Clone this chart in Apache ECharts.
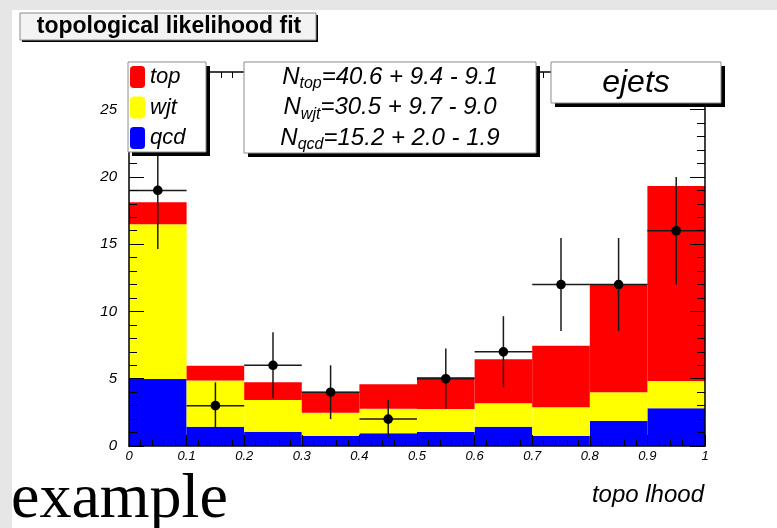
<!DOCTYPE html>
<html><head><meta charset="utf-8">
<script src="https://cdn.jsdelivr.net/npm/echarts@6/dist/echarts.min.js"></script>
<style>html,body{margin:0;padding:0;background:#fff}#c{width:777px;height:528px}</style>
</head><body><div id="c"></div>
<script>
// ---- data ----
const binLow  = [0.0,0.1,0.2,0.3,0.4,0.5,0.6,0.7,0.8,0.9];
const binHigh = [0.1,0.2,0.3,0.4,0.5,0.6,0.7,0.8,0.9,1.0];
const qcdVals = [4.98,1.43,1.06,0.74,0.94,1.04,1.43,0.74,1.86,2.80];
const wjtVals = [11.50,3.43,2.36,1.74,1.83,1.71,1.74,2.14,2.13,2.03];
const topVals = [1.64,1.11,1.32,1.56,1.82,2.38,3.28,4.58,8.05,14.50];
const dataVals = [19,3,6,4,2,5,7,12,12,16];
const dataErrs = [4.36,1.73,2.45,2.00,1.41,2.24,2.65,3.46,3.46,4.00];
const seriesNames = ['top','wjt','qcd'];
const fitNames = ['top','wjt','qcd'];
const fitVals  = ['40.6','30.5','15.2'];
const fitUp    = ['9.4','9.7','2.0'];
const fitDown  = ['9.1','9.0','1.9'];
const yTicks = [0,5,10,15,20,25];
const titleText = 'topological likelihood fit';
const xTitle = 'topo lhood';
const boxLabel = 'ejets';

const FONT = 'Liberation Sans, Arial, Helvetica, sans-serif';
const chart = echarts.init(document.getElementById('c'), null, {renderer:'canvas'});

function stackData(vals, bases){
  return vals.map((v,i)=>[binLow[i], binHigh[i], bases[i], bases[i]+v]);
}
const base0 = qcdVals.map(()=>0);
const base1 = qcdVals.slice();
const base2 = qcdVals.map((v,i)=>v+wjtVals[i]);

function histItem(params, api){
  const p0 = api.coord([api.value(0), api.value(2)]);
  const p1 = api.coord([api.value(1), api.value(3)]);
  return {type:'rect', shape:{x:p0[0], y:p1[1], width:p1[0]-p0[0], height:p0[1]-p1[1]},
          style:{fill: api.visual('color')}};
}
function dataItem(params, api){
  const x0=api.value(0), x1=api.value(1), y=api.value(2), e=api.value(3);
  const xc=(x0+x1)/2;
  const pl=api.coord([x0,y]), pr=api.coord([x1,y]), pc=api.coord([xc,y]);
  const pt=api.coord([xc,y+e]), pb=api.coord([xc,y-e]);
  const st={stroke:'#1a1a1a', lineWidth:1.5};
  return {type:'group', children:[
    {type:'line', shape:{x1:pl[0],y1:pl[1],x2:pr[0],y2:pr[1]}, style:st},
    {type:'line', shape:{x1:pt[0],y1:pt[1],x2:pb[0],y2:pb[1]}, style:st},
    {type:'circle', shape:{cx:pc[0],cy:pc[1],r:4.8}, style:{fill:'#000'}}
  ]};
}

const tickCommon = {inside:true, lineStyle:{color:'#000', width:1}};
function xAx(pos, showLabel){
  return {type:'value', min:0, max:1, interval:0.1, position:pos, z:10,
    axisLine:{onZero:false, lineStyle:{color:'#000', width:1.5}},
    axisTick:Object.assign({length:11}, tickCommon),
    minorTick:{show:true, splitNumber:5, length:6, lineStyle:{color:'#000', width:1}},
    splitLine:{show:false},
    axisLabel:{show:showLabel, fontStyle:'italic', fontSize:13, color:'#000', fontFamily:FONT, margin:4}
  };
}
function yAx(pos, showLabel){
  return {type:'value', min:0, max:27.8, interval:5, position:pos, z:10,
    axisLine:{onZero:false, lineStyle:{color:'#000', width:1.5}},
    axisTick:Object.assign({length:15}, tickCommon),
    minorTick:{show:true, splitNumber:5, length:8, lineStyle:{color:'#000', width:1}},
    splitLine:{show:false},
    axisLabel:{show:showLabel, fontStyle:'italic', fontSize:15, color:'#000', fontFamily:FONT, margin:12,
      formatter:v => yTicks.indexOf(v) >= 0 ? String(v) : ''}
  };
}

function box(x,y,w,h,off,fill,z){
  return [
    {type:'rect', z:z, shape:{x:x+off, y:y+off, width:w, height:h}, style:{fill:'#000'}},
    {type:'rect', z:z, shape:{x:x, y:y, width:w, height:h}, style:{fill:fill||'#fff', stroke:'#8c8c8c', lineWidth:1}}
  ];
}

const graphics = [];
// grey canvas strips
graphics.push({type:'rect', z:1, shape:{x:0,y:0,width:777,height:10}, style:{fill:'#e6e6e6'}});
graphics.push({type:'rect', z:1, shape:{x:0,y:0,width:12,height:528}, style:{fill:'#e6e6e6'}});
// title box
graphics.push({type:'rect', z:50, shape:{x:22,y:15,width:296,height:27}, style:{fill:'#000'}});
graphics.push({type:'rect', z:50, shape:{x:20,y:13,width:296,height:27}, style:{fill:'#f3f3f3', stroke:'#8c8c8c', lineWidth:1}});
graphics.push({type:'text', z:51, style:{x:169, y:27, text:titleText, font:'bold 23px '+FONT, fill:'#000', align:'center', verticalAlign:'middle'}});
// legend box
box(128,62,78,90,4,'#fff',50).forEach(g=>graphics.push(g));
// stats box
box(244,62,292,91,4,'#fff',50).forEach(g=>graphics.push(g));
const lineY = [77,107.5,138];
fitNames.forEach((n,i)=>{
  graphics.push({type:'text', z:51, style:{x:390, y:lineY[i],
    text:'{m|N}{s|'+n+'}{m|='+fitVals[i]+' + '+fitUp[i]+' - '+fitDown[i]+'}',
    align:'center', verticalAlign:'middle',
    rich:{
      m:{fontSize:24, fontStyle:'italic', fontFamily:FONT, fill:'#000', lineHeight:30},
      s:{fontSize:16, fontStyle:'italic', fontFamily:FONT, fill:'#000', lineHeight:18, verticalAlign:'bottom'}
    }}});
});
// ejets box
box(551,62,170,41,4,'#fff',50).forEach(g=>graphics.push(g));
graphics.push({type:'text', z:51, style:{x:636, y:83, text:boxLabel, font:'italic 32px '+FONT, fill:'#000', align:'center', verticalAlign:'middle'}});
// axis title
graphics.push({type:'text', z:51, style:{x:704, y:495, text:xTitle, font:'italic 24px '+FONT, fill:'#000', align:'right', verticalAlign:'middle'}});
// example
graphics.push({type:'text', z:51, style:{x:11, y:500, text:'example', font:'64px Liberation Serif, Times New Roman, serif', fill:'#000', align:'left', verticalAlign:'middle'}});

const option = {
  animation:false,
  backgroundColor:'#fff',
  grid:{left:129, top:72, width:576, height:374, containLabel:false},
  xAxis:[xAx('bottom',true), xAx('top',false)],
  yAxis:[yAx('left',true), yAx('right',false)],
  legend:{
    data:seriesNames, orient:'vertical', left:128, top:62, z:60,
    padding:[4,20,2,2], itemGap:8.5, itemWidth:15, itemHeight:22, icon:'roundRect',
    selectedMode:false,
    textStyle:{fontSize:22, fontStyle:'italic', fontFamily:FONT, color:'#000', lineHeight:22}
  },
  graphic:graphics,
  series:[
    {name:'qcd', type:'custom', renderItem:histItem, data:stackData(qcdVals, base0), itemStyle:{color:'#0000ff'}, encode:{x:[0,1], y:[2,3]}, z:2},
    {name:'wjt', type:'custom', renderItem:histItem, data:stackData(wjtVals, base1), itemStyle:{color:'#ffff00'}, encode:{x:[0,1], y:[2,3]}, z:2},
    {name:'top', type:'custom', renderItem:histItem, data:stackData(topVals, base2), itemStyle:{color:'#ff0000'}, encode:{x:[0,1], y:[2,3]}, z:2},
    {name:'data', type:'custom', renderItem:dataItem, data:dataVals.map((v,i)=>[binLow[i], binHigh[i], v, dataErrs[i]]), encode:{x:[0,1], y:2}, z:5}
  ]
};
chart.setOption(option);
</script>
</body></html>
